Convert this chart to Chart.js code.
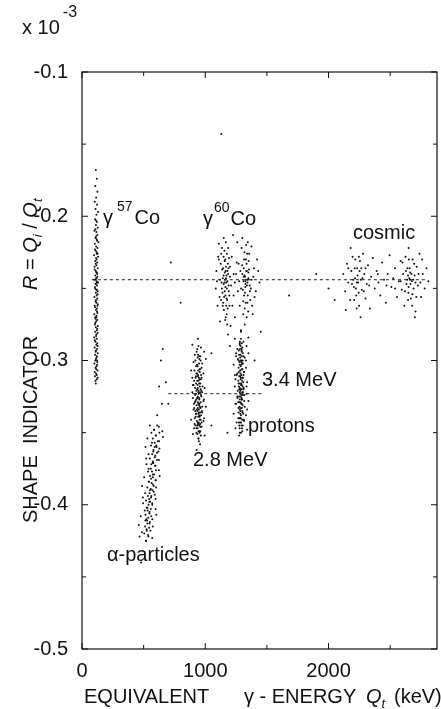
<!DOCTYPE html>
<html>
<head>
<meta charset="utf-8">
<script src="https://cdn.jsdelivr.net/npm/chart.js@4.4.1/dist/chart.umd.min.js"></script>
<style>
  html, body { margin: 0; padding: 0; background: #fff; }
  canvas { display: block; }
</style>
</head>
<body>
<canvas id="grafico" width="441" height="709"></canvas>
<script>
// eixos
const xMajor = [0, 1000, 2000];
const xMinor = [500, 1500, 2500];
const yMajor = [-0.1, -0.2, -0.3, -0.4, -0.5];
const yMinor = [-0.15, -0.25, -0.35, -0.45];

// linhas tracejadas [x, R]
const linhaGama = [[80, -0.244], [2800, -0.244]];
const linhaProtons = [[700, -0.323], [1470, -0.323]];

// nuvens de pontos [Qt keV, R]
const co57 = [
  [112,-.168],[120,-.174],[108,-.179],[125,-.183],[115,-.187],[104,-.190],[122,-.192],[110,-.195],[130,-.197],[117,-.199],
  [106,-.202],[121,-.204],[113,-.206],[128,-.208],[101,-.210],[117,-.211],[124,-.213],[109,-.215],[119,-.216],[133,-.218],
  [104,-.219],[115,-.221],[126,-.222],[111,-.224],[120,-.225],[98,-.227],[131,-.228],[114,-.229],[107,-.231],[123,-.232],
  [117,-.234],[102,-.235],[128,-.236],[112,-.238],[120,-.239],[108,-.241],[125,-.242],[115,-.243],[99,-.244],[118,-.245],
  [130,-.246],[110,-.247],[122,-.248],[105,-.249],[116,-.251],[127,-.252],[112,-.253],[119,-.255],[101,-.256],[124,-.257],
  [109,-.259],[116,-.260],[129,-.261],[106,-.263],[121,-.264],[113,-.265],[125,-.267],[100,-.268],[118,-.269],[110,-.271],
  [123,-.272],[115,-.273],[104,-.275],[128,-.276],[112,-.277],[120,-.279],[107,-.280],[126,-.281],[114,-.283],[99,-.284],
  [119,-.285],[109,-.287],[124,-.288],[116,-.289],[103,-.291],[121,-.292],[111,-.294],[128,-.295],[106,-.296],[118,-.298],
  [113,-.299],[124,-.301],[101,-.302],[117,-.304],[110,-.305],[126,-.307],[114,-.309],[105,-.311],[120,-.313],[112,-.316],
  [114,-.203],[109,-.209],[122,-.217],[105,-.223],[127,-.226],[118,-.230],[103,-.237],[124,-.240],[111,-.244],[121,-.246],
  [107,-.250],[126,-.254],[114,-.258],[103,-.262],[122,-.266],[116,-.270],[108,-.274],[124,-.278],[117,-.282],[104,-.286],
  [126,-.290],[113,-.293],[120,-.297],[108,-.300],[123,-.303],[115,-.306],[103,-.308],[119,-.310],[127,-.312],[109,-.314],
  [118,-.243],[113,-.247],[116,-.239],[120,-.251],[111,-.233],[125,-.262],[107,-.270],[119,-.226],[114,-.214],[122,-.300]
];
const co60 = [
  [1160,-.244],[1172,-.241],[1150,-.247],[1180,-.245],[1165,-.238],[1142,-.243],[1175,-.250],[1158,-.252],[1168,-.235],[1185,-.240],
  [1153,-.256],[1162,-.230],[1178,-.258],[1137,-.237],[1190,-.248],[1148,-.228],[1170,-.262],[1155,-.224],[1183,-.233],[1140,-.253],
  [1163,-.249],[1176,-.226],[1132,-.246],[1195,-.255],[1151,-.265],[1167,-.218],[1188,-.236],[1145,-.260],[1174,-.268],[1158,-.239],
  [1125,-.233],[1200,-.242],[1161,-.272],[1136,-.222],[1182,-.264],[1170,-.246],[1149,-.241],[1192,-.229],[1128,-.258],[1164,-.255],
  [1330,-.244],[1318,-.241],[1342,-.246],[1325,-.249],[1338,-.238],[1310,-.245],[1350,-.243],[1322,-.253],[1335,-.233],[1345,-.255],
  [1315,-.230],[1328,-.260],[1355,-.237],[1305,-.251],[1340,-.226],[1320,-.264],[1360,-.248],[1332,-.220],[1312,-.236],[1348,-.266],
  [1326,-.247],[1300,-.240],[1365,-.258],[1336,-.270],[1318,-.225],[1352,-.231],[1308,-.259],[1344,-.244],[1323,-.242],[1370,-.250],
  [1090,-.238],[1100,-.262],[1085,-.250],[1215,-.228],[1230,-.255],[1250,-.240],[1240,-.270],[1270,-.233],[1280,-.262],[1260,-.218],
  [1395,-.236],[1410,-.252],[1420,-.230],[1440,-.246],[1385,-.268],[1110,-.219],[1205,-.276],[1290,-.279],[1375,-.221],[1120,-.273],
  [1225,-.213],[1300,-.215],[1185,-.282],[1350,-.284],
  [1155,-.246],[1168,-.243],[1180,-.238],[1145,-.236],[1190,-.252],[1135,-.250],[1200,-.235],[1120,-.244],[1210,-.248],[1110,-.230],
  [1157,-.231],[1173,-.257],[1142,-.262],[1186,-.222],[1130,-.226],[1166,-.270],[1196,-.262],[1116,-.256],[1150,-.215],[1178,-.275],
  [1325,-.245],[1338,-.248],[1312,-.242],[1350,-.239],[1300,-.234],[1362,-.252],[1290,-.250],[1375,-.244],[1330,-.230],[1342,-.260],
  [1308,-.268],[1356,-.226],[1295,-.222],[1380,-.262],[1320,-.275],[1345,-.218],[1285,-.238],[1390,-.242],[1315,-.255],[1333,-.238],
  [1240,-.246],[1255,-.232],[1265,-.252],[1230,-.240],[1275,-.245],[1220,-.262],[1400,-.256],[1095,-.245],[1430,-.238],[1105,-.228]
];
const cosmicos = [
  [2120,-.240],[2135,-.252],[2150,-.233],[2160,-.246],[2175,-.258],[2185,-.238],[2195,-.228],[2205,-.249],[2215,-.243],[2225,-.255],
  [2232,-.236],[2240,-.246],[2248,-.262],[2255,-.231],[2262,-.244],[2270,-.251],[2280,-.226],[2290,-.240],[2300,-.257],[2310,-.247],
  [2320,-.234],[2335,-.264],[2345,-.242],[2360,-.229],[2375,-.250],[2390,-.238],[2405,-.246],[2420,-.255],[2435,-.232],[2450,-.244],
  [2465,-.260],[2480,-.240],[2495,-.227],[2510,-.249],[2525,-.243],[2540,-.236],[2555,-.256],[2570,-.245],[2585,-.231],[2595,-.251],
  [2605,-.240],[2615,-.262],[2625,-.228],[2632,-.247],[2640,-.236],[2648,-.253],[2655,-.243],[2662,-.239],[2668,-.257],[2675,-.245],
  [2682,-.230],[2690,-.250],[2698,-.241],[2706,-.266],[2715,-.235],[2725,-.248],[2738,-.226],[2750,-.256],[2765,-.240],[2780,-.250],
  [2795,-.236],[2810,-.245],[2140,-.265],[2180,-.222],[2260,-.270],[2650,-.222],[2700,-.270],[2230,-.246],[2660,-.244],[2645,-.241],
  [2200,-.244],[2212,-.236],[2222,-.250],[2236,-.241],[2244,-.253],[2252,-.238],[2218,-.230],[2266,-.236],[2208,-.258],[2275,-.243],
  [2190,-.247],[2286,-.252],[2228,-.264],[2246,-.228],[2160,-.236],[2300,-.236],[2330,-.248],[2400,-.240],[2470,-.248],[2540,-.250],
  [2638,-.244],[2650,-.249],[2658,-.236],[2665,-.247],[2672,-.240],[2680,-.254],[2688,-.244],[2645,-.258],[2695,-.233],[2628,-.238],
  [2705,-.246],[2620,-.252],[2712,-.256],[2600,-.232],[2730,-.240],[2652,-.230],[2678,-.262],[2745,-.246],[2585,-.245],[2760,-.230]
];
const mev28 = [
  [945,-.290],[930,-.294],[960,-.297],[920,-.300],[950,-.302],[938,-.304],[970,-.305],[912,-.307],[955,-.308],[942,-.310],
  [925,-.311],[965,-.313],[935,-.314],[950,-.316],[905,-.317],[978,-.318],[940,-.319],[928,-.321],[958,-.322],[946,-.323],
  [918,-.324],[968,-.325],[937,-.326],[952,-.327],[922,-.328],[962,-.329],[944,-.330],[930,-.331],[975,-.332],[910,-.333],
  [948,-.334],[936,-.335],[958,-.336],[925,-.337],[966,-.338],[942,-.339],[915,-.340],[954,-.341],[932,-.342],[970,-.343],
  [946,-.344],[920,-.345],[960,-.346],[938,-.347],[952,-.349],[928,-.350],[964,-.352],[944,-.354],[935,-.320],[956,-.318],
  [948,-.312],[940,-.325],[961,-.333],[926,-.316],[944,-.337],[953,-.330],[933,-.309],[968,-.321],[919,-.335],[947,-.343],
  [900,-.326],[985,-.328],[895,-.312],[990,-.340],[940,-.285],[958,-.358],[930,-.362],
  [941,-.296],[952,-.299],[934,-.303],[958,-.306],[928,-.309],[946,-.314],[937,-.317],[962,-.320],[925,-.323],[950,-.326],
  [940,-.329],[957,-.332],[931,-.334],[948,-.336],[922,-.339],[963,-.341],[939,-.343],[951,-.345],[929,-.347],[945,-.349],
  [936,-.351],[955,-.313],[918,-.319],[972,-.335],[943,-.307],[909,-.330],[966,-.310],[934,-.345],[950,-.338],[944,-.322],
  [927,-.327],[959,-.344],[940,-.333],[913,-.344],[975,-.322],[948,-.356],[938,-.298],[962,-.300],[921,-.312],[954,-.350],
  [895,-.289],[965,-.291],[935,-.292],[990,-.294],[915,-.296],[950,-.297],[1005,-.299],[905,-.301],[975,-.302],[925,-.304],
  [955,-.306],[885,-.307],[985,-.309],[940,-.311],[970,-.312],[910,-.314],[960,-.316],[900,-.317],[995,-.319],[945,-.321],
  [895,-.322],[965,-.324],[935,-.326],[990,-.327],[915,-.329],[950,-.331],[1005,-.332],[905,-.334],[975,-.336],[925,-.337],
  [955,-.339],[885,-.341],[985,-.342],[940,-.344],[970,-.346],[910,-.347],[960,-.349],[900,-.351],[995,-.352],[945,-.354]
];
const protons = [
  [1290,-.285],[1280,-.289],[1300,-.291],[1272,-.293],[1295,-.294],[1285,-.296],[1310,-.297],[1265,-.299],[1292,-.300],[1278,-.301],
  [1305,-.302],[1288,-.304],[1270,-.305],[1298,-.306],[1283,-.307],[1315,-.308],[1260,-.309],[1293,-.310],[1276,-.311],[1302,-.312],
  [1287,-.313],[1268,-.314],[1308,-.315],[1281,-.316],[1296,-.317],[1273,-.318],[1312,-.319],[1289,-.320],[1263,-.321],[1300,-.322],
  [1284,-.323],[1306,-.324],[1275,-.325],[1294,-.326],[1280,-.327],[1316,-.328],[1267,-.329],[1291,-.330],[1303,-.331],[1278,-.332],
  [1297,-.333],[1285,-.335],[1270,-.336],[1308,-.337],[1290,-.338],[1277,-.340],[1300,-.341],[1283,-.343],[1294,-.345],[1279,-.347],
  [1292,-.303],[1286,-.309],[1299,-.314],[1281,-.319],[1295,-.324],[1288,-.329],[1274,-.296],[1304,-.300],[1282,-.292],[1297,-.288],
  [1240,-.310],[1335,-.318],[1245,-.330],[1330,-.300],[1250,-.295],[1340,-.334],[1290,-.280],[1275,-.352],
  [1287,-.290],[1296,-.297],[1279,-.303],[1301,-.306],[1284,-.311],[1292,-.316],[1276,-.320],[1306,-.322],[1287,-.325],[1296,-.330],
  [1280,-.334],[1302,-.336],[1288,-.340],[1273,-.343],[1298,-.347],[1283,-.298],[1293,-.301],[1270,-.316],[1310,-.310],[1285,-.321],
  [1299,-.327],[1277,-.329],[1290,-.333],[1312,-.341],[1268,-.340],[1294,-.292],[1281,-.287],[1303,-.318],[1272,-.308],[1289,-.312],
  [1297,-.320],[1284,-.337],[1262,-.326],[1318,-.324],[1291,-.343],[1276,-.345],[1305,-.295],[1286,-.300],[1300,-.349],[1280,-.350],
  [1240,-.285],[1310,-.287],[1280,-.288],[1335,-.290],[1260,-.292],[1295,-.293],[1350,-.295],[1250,-.297],[1320,-.298],[1270,-.300],
  [1300,-.302],[1230,-.303],[1330,-.305],[1285,-.307],[1315,-.308],[1255,-.310],[1305,-.312],[1245,-.313],[1340,-.315],[1290,-.317],
  [1240,-.318],[1310,-.320],[1280,-.322],[1335,-.323],[1260,-.325],[1295,-.327],[1350,-.328],[1250,-.330],[1320,-.332],[1270,-.333],
  [1300,-.335],[1230,-.337],[1330,-.338],[1285,-.340],[1315,-.342],[1255,-.343],[1305,-.345],[1245,-.347],[1340,-.348],[1290,-.350]
];
const alfa = [
  [610,-.345],[585,-.348],[628,-.350],[598,-.352],[575,-.354],[615,-.356],[590,-.357],[560,-.359],[605,-.360],[580,-.362],
  [620,-.363],[570,-.365],[595,-.366],[550,-.368],[608,-.369],[578,-.371],[562,-.372],[592,-.373],[540,-.375],[600,-.376],
  [568,-.377],[585,-.379],[552,-.380],[575,-.381],[598,-.383],[545,-.384],[565,-.385],[582,-.387],[530,-.388],[558,-.389],
  [572,-.390],[548,-.392],[590,-.393],[535,-.394],[560,-.395],[520,-.397],[552,-.398],[570,-.399],[540,-.400],[525,-.402],
  [558,-.403],[532,-.404],[548,-.405],[515,-.407],[562,-.408],[538,-.409],[522,-.410],[550,-.412],[530,-.413],[512,-.415],
  [545,-.416],[525,-.418],[505,-.420],[538,-.422],[518,-.425],[560,-.382],[575,-.370],[545,-.396],[528,-.411],[590,-.360],
  [640,-.300],[655,-.292],[625,-.318],[648,-.330],[610,-.338],[680,-.315],
  [550,-.345],[624,-.346],[585,-.348],[651,-.349],[563,-.350],[601,-.352],[657,-.353],[531,-.354],[625,-.356],[568,-.357],
  [602,-.359],[515,-.360],[628,-.361],[578,-.363],[609,-.364],[540,-.365],[590,-.367],[521,-.368],[624,-.369],[574,-.371],
  [523,-.372],[597,-.373],[558,-.375],[624,-.376],[536,-.377],[574,-.379],[630,-.380],[504,-.381],[598,-.383],[541,-.384],
  [575,-.386],[488,-.387],[601,-.388],[551,-.390],[582,-.391],[513,-.392],[563,-.394],[494,-.395],[597,-.396],[547,-.398],
  [496,-.399],[570,-.400],[531,-.402],[597,-.403],[509,-.404],[547,-.406],[603,-.407],[477,-.408],[571,-.410],[514,-.411],
  [548,-.413],[461,-.414],[574,-.415],[524,-.417],[555,-.418],[486,-.419],[536,-.421],[467,-.422],[570,-.423],[520,-.425]
];
const dispersos = [
  [1680,-.255],[1900,-.240],[2000,-.250],[800,-.260],[1050,-.295],[1200,-.290],[1400,-.300],[700,-.330],
  [1050,-.345],[1180,-.350],[1130,-.143],[720,-.232],[480,-.440],[1450,-.280],[2050,-.258]
];

const pontos = arr => arr.map(([x, y]) => ({ x, y }));
const FONTE = '"Liberation Sans", Arial, sans-serif';

function nuvem(dados) {
  return { data: pontos(dados), pointRadius: 1, pointBackgroundColor: '#111', pointBorderWidth: 0, showLine: false };
}
function tracejada(dados) {
  return { data: pontos(dados), showLine: true, pointRadius: 0, borderColor: '#222', borderWidth: 1, borderDash: [3, 3] };
}

// escreve trechos de texto (com sub/sobrescrito) em sequência
function escrever(ctx, x, y, trechos) {
  trechos.forEach(t => {
    ctx.font = t.f;
    ctx.fillText(t.s, x + (t.dx || 0), y + (t.dy || 0));
    x += (t.dx || 0) + ctx.measureText(t.s).width;
  });
}

const molduraPlugin = {
  id: 'moldura',
  afterDraw(chart) {
    const { ctx, chartArea: a, scales: { x, y } } = chart;
    ctx.save();
    ctx.strokeStyle = '#111';
    ctx.lineWidth = 1.2;
    ctx.strokeRect(a.left, a.top, a.right - a.left, a.bottom - a.top);
    ctx.lineWidth = 1;
    ctx.beginPath();
    const tickX = (v, len) => {
      const px = x.getPixelForValue(v);
      ctx.moveTo(px, a.bottom); ctx.lineTo(px, a.bottom - len);
      ctx.moveTo(px, a.top); ctx.lineTo(px, a.top + len);
    };
    const tickY = (v, len) => {
      const py = y.getPixelForValue(v);
      ctx.moveTo(a.left, py); ctx.lineTo(a.left + len, py);
      ctx.moveTo(a.right, py); ctx.lineTo(a.right - len, py);
    };
    xMajor.forEach(v => tickX(v, 6));
    xMinor.forEach(v => tickX(v, 4));
    yMajor.forEach(v => tickY(v, 6));
    yMinor.forEach(v => tickY(v, 4));
    ctx.stroke();

    ctx.fillStyle = '#111';
    ctx.textBaseline = 'middle';
    ctx.textAlign = 'left';
    const n = '20px ' + FONTE, it = 'italic 20px ' + FONTE, pq = '14px ' + FONTE, pqi = 'italic 13px ' + FONTE;

    // multiplicador
    escrever(ctx, 22, 28, [{ s: 'x 10', f: n }, { s: '-3', f: '16px ' + FONTE, dx: 3, dy: -15 }]);

    // rótulos das nuvens
    escrever(ctx, 103, 218, [{ s: 'γ', f: n }, { s: '57', f: pq, dx: 4, dy: -11 }, { s: 'Co', f: n, dx: 2 }]);
    escrever(ctx, 203, 219, [{ s: 'γ', f: n }, { s: '60', f: pq, dx: 1, dy: -11 }, { s: 'Co', f: n, dx: 1 }]);
    ctx.font = n;
    ctx.fillText('cosmic', 353, 233);
    ctx.fillText('3.4 MeV', 262, 380);
    ctx.fillText('protons', 248, 426);
    ctx.fillText('2.8 MeV', 193, 460);
    ctx.fillText('α-particles', 107, 555);

    // título do eixo x
    const yt = 697;
    ctx.fillText('EQUIVALENT', 84, yt);
    ctx.fillText('γ - ENERGY', 244, yt);
    escrever(ctx, 366, yt, [{ s: 'Q', f: it }, { s: 't', f: pqi, dy: 7 }]);
    ctx.font = n;
    ctx.fillText('(keV)', 394, yt);

    // título do eixo y (girado)
    ctx.translate(31, 523);
    ctx.rotate(-Math.PI / 2);
    ctx.font = n;
    ctx.fillText('SHAPE  INDICATOR', 0, 0);
    escrever(ctx, 233, 0, [
      { s: 'R', f: it }, { s: ' = ', f: n }, { s: 'Q', f: it }, { s: 'i', f: pqi, dy: 7 },
      { s: ' / ', f: n }, { s: 'Q', f: it }, { s: 't', f: pqi, dy: 7 }
    ]);
    ctx.restore();
  }
};

const ctx = document.getElementById('grafico').getContext('2d');
new Chart(ctx, {
  type: 'scatter',
  data: {
    datasets: [
      nuvem(co57), nuvem(co60), nuvem(cosmicos), nuvem(mev28), nuvem(protons), nuvem(alfa), nuvem(dispersos),
      tracejada(linhaGama), tracejada(linhaProtons)
    ]
  },
  options: {
    responsive: false,
    animation: false,
    devicePixelRatio: 1,
    layout: { padding: { left: 0, top: 72, right: 4, bottom: 0 } },
    plugins: { legend: { display: false }, tooltip: { enabled: false } },
    scales: {
      x: {
        type: 'linear', min: 0, max: 2880,
        grid: { display: false, drawTicks: false },
        border: { display: false },
        afterBuildTicks: s => { s.ticks = xMajor.map(v => ({ value: v })); },
        afterFit: s => { s.height = 60; },
        ticks: { color: '#111', padding: 10, maxRotation: 0, font: { size: 20, family: FONTE }, callback: v => String(v) }
      },
      y: {
        type: 'linear', min: -0.5, max: -0.1,
        grid: { display: false, drawTicks: false },
        border: { display: false },
        afterBuildTicks: s => { s.ticks = yMajor.map(v => ({ value: v })); },
        afterFit: s => { s.width = 82; },
        ticks: { color: '#111', padding: 14, font: { size: 20, family: FONTE }, callback: v => v.toFixed(1) }
      }
    }
  },
  plugins: [molduraPlugin]
});
</script>
</body>
</html>
